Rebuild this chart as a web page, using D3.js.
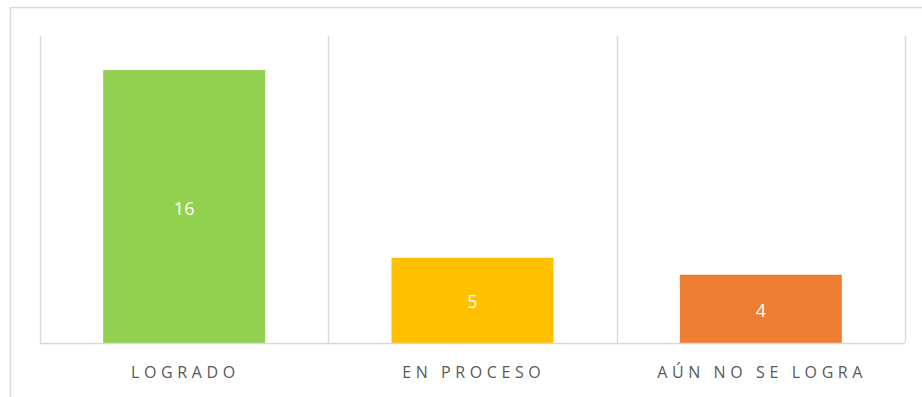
<!DOCTYPE html>
<html>
<head>
<meta charset="utf-8">
<script src="https://cdn.jsdelivr.net/npm/d3@7"></script>
<style>
  html, body { margin: 0; padding: 0; background: #fff; }
  svg { display: block; }
</style>
</head>
<body>
<svg id="chart" width="922" height="397"></svg>
<script>
const categories = ["LOGRADO", "EN PROCESO", "AÚN NO SE LOGRA"];
const values = [16, 5, 4];
const colors = ["#92D050", "#FFC000", "#ED7D31"];
const yMax = 18;

const svg = d3.select("#chart");
const plot = { left: 40, top: 36, right: 905, bottom: 343 };

// chart frame (extends past the visible area on right and bottom)
svg.append("rect")
  .attr("x", 10.5).attr("y", 7.5)
  .attr("width", 1000).attr("height", 1000)
  .attr("fill", "none").attr("stroke", "#D9D9D9").attr("stroke-width", 1.5);

const x = d3.scaleBand()
  .domain(categories)
  .range([plot.left, plot.right])
  .paddingInner(0).paddingOuter(0);

const y = d3.scaleLinear().domain([0, yMax]).range([plot.bottom, plot.top]);

// category separators
const seps = categories.map(c => x(c)).concat([plot.right]);
svg.append("g").selectAll("line").data(seps).join("line")
  .attr("x1", d => Math.round(d) + 0.5).attr("x2", d => Math.round(d) + 0.5)
  .attr("y1", plot.top).attr("y2", plot.bottom)
  .attr("stroke", "#D9D9D9").attr("stroke-width", 1.5);

// bars: gap width 78%
const gap = 0.78;
const bw = x.bandwidth() / (1 + gap);
svg.append("g").selectAll("rect").data(categories).join("rect")
  .attr("x", (d) => x(d) + (x.bandwidth() - bw) / 2)
  .attr("y", (d, i) => y(values[i]))
  .attr("width", bw)
  .attr("height", (d, i) => plot.bottom - y(values[i]))
  .attr("fill", (d, i) => colors[i]);

// baseline
svg.append("line")
  .attr("x1", plot.left).attr("x2", plot.right)
  .attr("y1", plot.bottom + 0.5).attr("y2", plot.bottom + 0.5)
  .attr("stroke", "#D9D9D9").attr("stroke-width", 1.5);

// value labels
svg.append("g").selectAll("text").data(categories).join("text")
  .attr("x", d => x(d) + x.bandwidth() / 2)
  .attr("y", (d, i) => (y(values[i]) + plot.bottom) / 2 + 1)
  .attr("text-anchor", "middle").attr("dominant-baseline", "central")
  .attr("fill", "#FFFFFF")
  .style("font-family", "'Open Sans', sans-serif").style("font-size", "18px")
  .text((d, i) => values[i]);

// category axis labels
const spacing = 4.6;
svg.append("g").selectAll("text").data(categories).join("text")
  .attr("x", d => x(d) + x.bandwidth() / 2 + spacing / 2 - 1)
  .attr("y", 378)
  .attr("text-anchor", "middle")
  .attr("fill", "#595959")
  .style("font-family", "'Open Sans', sans-serif").style("font-size", "16px")
  .style("letter-spacing", spacing + "px")
  .text(d => d);
</script>
</body>
</html>
